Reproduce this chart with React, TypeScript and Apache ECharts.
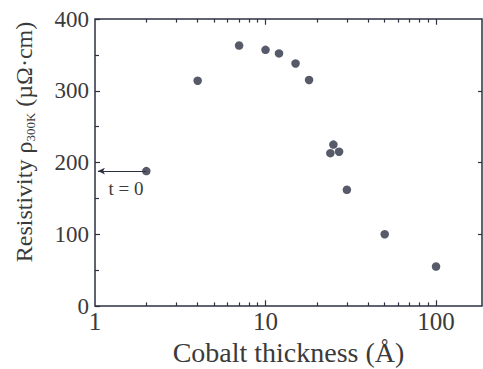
import React, { useEffect, useRef } from "react";
import * as echarts from "echarts";

const thickness = [2, 4, 7, 10, 12, 15, 18, 24, 25, 27, 30, 50, 100];
const resistivity = [188, 314, 363, 357, 352, 338, 315, 213, 225, 215, 162, 100, 55];
const xMajorTicks = [1, 10, 100];
const xMinorTicks = [2, 3, 4, 5, 6, 7, 8, 9, 20, 30, 40, 50, 60, 70, 80, 90];
const yMajorTicks = [100, 200, 300];
const arrowFrom = [2, 188];
const arrowTo = [1.04, 188];
const X_MIN = 1;
const X_MAX = 186;
const Y_MIN = 0;
const Y_MAX = 400;

const INK = "#2d3243";
const TXT = "#3a3a3a";
const FONT = "'Liberation Serif', 'DejaVu Serif', serif";

// tick lengths expressed in data units of the scales
const MINOR_LEN_Y = 5;
const MAJOR_LEN_Y = 8;
const RIGHT_TICK_FACTOR = 0.947;

export default function App() {
  const ref = useRef<HTMLDivElement>(null);
  useEffect(() => {
    document.body.style.margin = "0";
    const chart = echarts.init(ref.current!, null, { renderer: "svg" });
    const seg = (a: number[], b: number[]) => [{ coord: a }, { coord: b }];
    const tickLines = [
      ...xMinorTicks.map((v) => seg([v, Y_MIN], [v, Y_MIN + MINOR_LEN_Y])),
      ...xMinorTicks.map((v) => seg([v, Y_MAX], [v, Y_MAX - MINOR_LEN_Y])),
      ...xMajorTicks.slice(1).map((v) => seg([v, Y_MIN], [v, Y_MIN + MAJOR_LEN_Y])),
      ...xMajorTicks.slice(1).map((v) => seg([v, Y_MAX], [v, Y_MAX - MAJOR_LEN_Y])),
      ...yMajorTicks.map((v) => seg([X_MAX, v], [X_MAX * RIGHT_TICK_FACTOR, v])),
    ];
    const arrow = [
      { coord: arrowFrom, symbol: "none" },
      { coord: arrowTo, symbol: "arrow", symbolSize: [5, 7] },
    ];
    chart.setOption({
      animation: false,
      backgroundColor: "#ffffff",
      grid: {
        left: 95,
        right: 1,
        top: 19,
        bottom: 63,
        outerBoundsMode: "none",
        show: true,
        borderColor: INK,
        borderWidth: 1.5,
      },
      xAxis: [
        {
          type: "log",
          logBase: 10,
          min: X_MIN,
          max: X_MAX,
          name: "Cobalt thickness (Å)",
          nameLocation: "middle",
          nameGap: 32,
          nameTextStyle: { fontFamily: FONT, fontSize: 28, color: TXT },
          axisLine: { show: false, onZero: false },
          axisTick: { show: false },
          axisLabel: {
            fontFamily: FONT,
            fontSize: 25,
            color: TXT,
            margin: 3,
            formatter: (v: number) => (xMajorTicks.includes(Math.round(v)) ? String(Math.round(v)) : ""),
          },
          splitLine: { show: false },
        },
      ],
      yAxis: [
        {
          type: "value",
          min: Y_MIN,
          max: Y_MAX,
          interval: 100,
          axisLine: { show: false, onZero: false },
          axisTick: { show: true, inside: true, length: 5, lineStyle: { color: INK, width: 1.2 } },
          minorTick: { show: true, splitNumber: 2, length: 4, lineStyle: { color: INK, width: 1.2 } },
          axisLabel: { fontFamily: FONT, fontSize: 23, color: TXT, margin: 6 },
          splitLine: { show: false },
        },
      ],
      graphic: [
        {
          type: "text",
          x: 24,
          y: 142,
          rotation: Math.PI / 2,
          style: {
            text: "{a|Resistivity ρ}{s|300K}{a| (µΩ·cm)}",
            align: "center",
            verticalAlign: "middle",
            rich: {
              a: { fontFamily: FONT, fontSize: 24, fill: TXT },
              s: { fontFamily: FONT, fontSize: 13, fill: TXT, padding: [12, 0, 0, 0] },
            },
          },
        },
        {
          type: "text",
          x: 126,
          y: 188,
          style: {
            text: "t = 0",
            align: "center",
            verticalAlign: "middle",
            fontFamily: FONT,
            fontSize: 19,
            fill: TXT,
          },
        },
      ],
      series: [
        {
          type: "scatter",
          data: thickness.map((t, i) => [t, resistivity[i]]),
          symbol: "circle",
          symbolSize: 8.5,
          itemStyle: { color: INK },
          markLine: {
            silent: true,
            symbol: "none",
            label: { show: false },
            lineStyle: { color: INK, width: 1.2, type: "solid" },
            emphasis: { disabled: true },
            data: [arrow, ...tickLines],
          },
        },
      ],
    });
    return () => chart.dispose();
  }, []);
  return <div ref={ref} style={{ width: 483, height: 369, position: "absolute", left: 0, top: 0 }} />;
}
